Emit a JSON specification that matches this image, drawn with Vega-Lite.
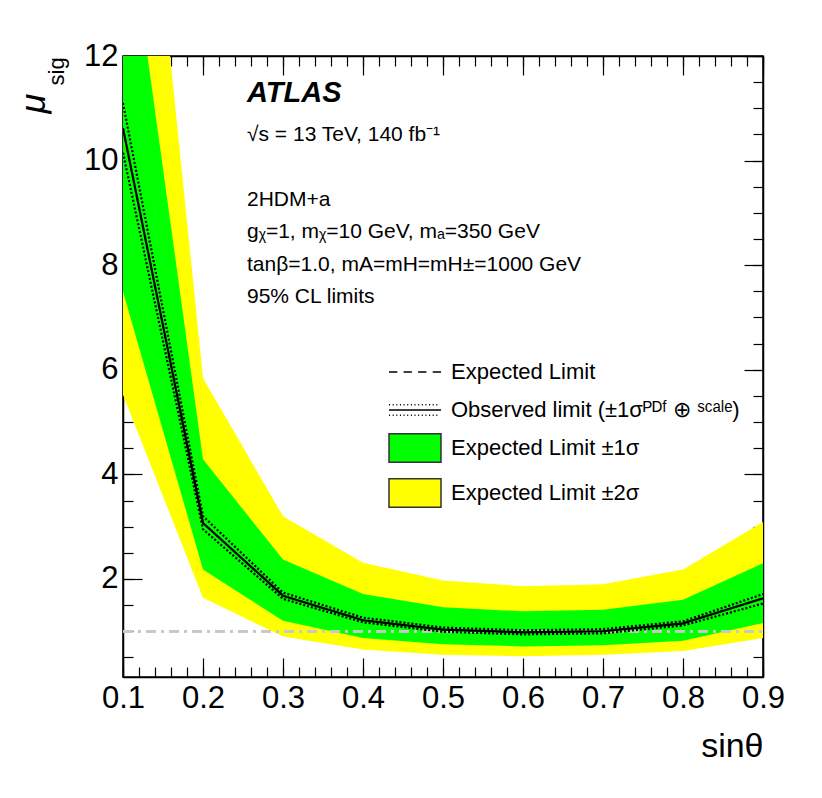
{
  "$schema": "https://vega.github.io/schema/vega-lite/v6.json",
  "width": 640,
  "height": 621,
  "autosize": {"type": "none"},
  "padding": {"left": 123, "top": 56, "right": 59, "bottom": 121},
  "background": "white",
  "title": {
    "text": "ATLAS",
    "subtitle": ["√s = 13 TeV, 140 fb⁻¹", "\u200b", "2HDM+a", "gᵪ=1, mᵪ=10 GeV, mₐ=350 GeV", "tanβ=1.0, mA=mH=mH±=1000 GeV", "95% CL limits"],
    "anchor": "start",
    "frame": "group",
    "orient": "top",
    "offset": -267,
    "dx": 124,
    "font": "Liberation Sans",
    "fontSize": 29,
    "fontWeight": "bold",
    "fontStyle": "italic",
    "color": "black",
    "subtitleFont": "Liberation Sans",
    "subtitleFontSize": 21,
    "subtitleColor": "black",
    "subtitleLineHeight": 32.5,
    "subtitlePadding": 16
  },
  "datasets": {
    "limits": [
      {"sin": 0.1, "y2lo": 5.52, "y1lo": 7.49, "obs": 10.62, "up": 11.1, "dn": 10.15, "exp": 10.62, "y1hi": 15.4, "y2hi": 20.8},
      {"sin": 0.2, "y2lo": 1.64, "y1lo": 2.18, "obs": 3.07, "up": 3.2, "dn": 2.95, "exp": 3.07, "y1hi": 4.29, "y2hi": 5.84},
      {"sin": 0.3, "y2lo": 0.9, "y1lo": 1.2, "obs": 1.68, "up": 1.74, "dn": 1.62, "exp": 1.68, "y1hi": 2.37, "y2hi": 3.2},
      {"sin": 0.4, "y2lo": 0.65, "y1lo": 0.87, "obs": 1.21, "up": 1.26, "dn": 1.17, "exp": 1.21, "y1hi": 1.71, "y2hi": 2.31},
      {"sin": 0.5, "y2lo": 0.55, "y1lo": 0.75, "obs": 1.03, "up": 1.07, "dn": 0.99, "exp": 1.03, "y1hi": 1.46, "y2hi": 1.97},
      {"sin": 0.6, "y2lo": 0.52, "y1lo": 0.71, "obs": 0.98, "up": 1.02, "dn": 0.94, "exp": 0.98, "y1hi": 1.38, "y2hi": 1.86},
      {"sin": 0.7, "y2lo": 0.55, "y1lo": 0.73, "obs": 1.0, "up": 1.04, "dn": 0.96, "exp": 1.0, "y1hi": 1.41, "y2hi": 1.9},
      {"sin": 0.8, "y2lo": 0.62, "y1lo": 0.82, "obs": 1.15, "up": 1.19, "dn": 1.11, "exp": 1.15, "y1hi": 1.6, "y2hi": 2.18},
      {"sin": 0.9, "y2lo": 0.87, "y1lo": 1.16, "obs": 1.63, "up": 1.71, "dn": 1.53, "exp": 1.63, "y1hi": 2.3, "y2hi": 3.09}
    ]
  },
  "data": {"name": "limits"},
  "layer": [
    {
      "mark": {"type": "area", "color": "#ffff00", "clip": true},
      "encoding": {
        "x": {
          "field": "sin", "type": "quantitative",
          "scale": {"domain": [0.1, 0.9], "nice": false, "zero": false},
          "axis": {
            "orient": "bottom", "ticks": false, "labels": true,
            "values": [0.1, 0.2, 0.3, 0.4, 0.5, 0.6, 0.7, 0.8, 0.9],
            "format": ".1f", "labelPadding": 6, "labelFlush": false, "labelBound": false,
            "title": "sinθ", "titleFontSize": 34, "titleX": 640, "titleY": 79,
            "titleAlign": "right", "titleBaseline": "alphabetic", "titleAnchor": null
          }
        },
        "y": {
          "field": "y2lo", "type": "quantitative",
          "scale": {"domain": [0.125, 12], "nice": false, "zero": false},
          "axis": {
            "orient": "left", "ticks": false, "labels": true,
            "values": [2, 4, 6, 8, 10, 12], "format": "d", "labelPadding": 5,
            "title": "μ", "titleFontSize": 36, "titleFontStyle": "italic",
            "titleX": -79, "titleY": 57, "titleAngle": 270,
            "titleAlign": "left", "titleBaseline": "alphabetic", "titleAnchor": null
          }
        },
        "y2": {"field": "y2hi"}
      }
    },
    {
      "mark": {"type": "area", "color": "#00ff00", "clip": true},
      "encoding": {
        "x": {
          "field": "sin", "type": "quantitative",
          "axis": {
            "orient": "bottom", "labels": false, "title": null, "tickSize": -19,
            "domain": true, "values": [0.1, 0.2, 0.3, 0.4, 0.5, 0.6, 0.7, 0.8, 0.9]
          }
        },
        "y": {
          "field": "y1lo", "type": "quantitative",
          "axis": {
            "orient": "left", "labels": false, "title": null, "tickSize": -19,
            "domain": true, "values": [2, 4, 6, 8, 10, 12]
          }
        },
        "y2": {"field": "y1hi"}
      }
    },
    {
      "mark": {"type": "rule", "color": "#c8c8c8", "strokeWidth": 2, "strokeDash": [10, 5, 3, 5]},
      "encoding": {
        "x": {
          "datum": 0.1, "type": "quantitative",
          "axis": {
            "orient": "bottom", "labels": false, "title": null, "tickSize": -10,
            "values": [0.1, 0.12, 0.14, 0.16, 0.18, 0.2, 0.22, 0.24, 0.26, 0.28, 0.3, 0.32, 0.34, 0.36, 0.38, 0.4, 0.42, 0.44, 0.46, 0.48, 0.5, 0.52, 0.54, 0.56, 0.58, 0.6, 0.62, 0.64, 0.66, 0.68, 0.7, 0.72, 0.74, 0.76, 0.78, 0.8, 0.82, 0.84, 0.86, 0.88, 0.9]
          }
        },
        "x2": {"datum": 0.9},
        "y": {
          "datum": 1, "type": "quantitative",
          "axis": {
            "orient": "left", "labels": false, "title": null, "tickSize": -10,
            "values": [0.5, 1, 1.5, 2, 2.5, 3, 3.5, 4, 4.5, 5, 5.5, 6, 6.5, 7, 7.5, 8, 8.5, 9, 9.5, 10, 10.5, 11, 11.5, 12]
          }
        }
      }
    },
    {
      "mark": {"type": "line", "color": "black", "strokeWidth": 1.5, "strokeDash": [6, 4], "clip": true},
      "encoding": {
        "x": {
          "field": "sin", "type": "quantitative",
          "axis": {
            "orient": "top", "labels": false, "title": null, "tickSize": -19,
            "domain": true, "values": [0.1, 0.2, 0.3, 0.4, 0.5, 0.6, 0.7, 0.8, 0.9]
          }
        },
        "y": {
          "field": "exp", "type": "quantitative",
          "axis": {
            "orient": "right", "labels": false, "title": null, "tickSize": -19,
            "domain": true, "values": [2, 4, 6, 8, 10, 12]
          }
        }
      }
    },
    {
      "mark": {"type": "line", "color": "black", "strokeWidth": 2.2, "strokeDash": [2, 2], "clip": true},
      "encoding": {
        "x": {
          "field": "sin", "type": "quantitative",
          "axis": {
            "orient": "top", "labels": false, "title": null, "tickSize": -10,
            "values": [0.1, 0.12, 0.14, 0.16, 0.18, 0.2, 0.22, 0.24, 0.26, 0.28, 0.3, 0.32, 0.34, 0.36, 0.38, 0.4, 0.42, 0.44, 0.46, 0.48, 0.5, 0.52, 0.54, 0.56, 0.58, 0.6, 0.62, 0.64, 0.66, 0.68, 0.7, 0.72, 0.74, 0.76, 0.78, 0.8, 0.82, 0.84, 0.86, 0.88, 0.9]
          }
        },
        "y": {
          "field": "up", "type": "quantitative",
          "axis": {
            "orient": "right", "labels": false, "title": null, "tickSize": -10,
            "values": [0.5, 1, 1.5, 2, 2.5, 3, 3.5, 4, 4.5, 5, 5.5, 6, 6.5, 7, 7.5, 8, 8.5, 9, 9.5, 10, 10.5, 11, 11.5, 12]
          }
        }
      }
    },
    {
      "mark": {"type": "line", "color": "black", "strokeWidth": 2.2, "strokeDash": [2, 2], "clip": true},
      "encoding": {
        "x": {"field": "sin", "type": "quantitative", "axis": null},
        "y": {
          "field": "dn", "type": "quantitative",
          "axis": {
            "orient": "left", "labels": false, "ticks": false, "values": [],
            "title": "sig", "titleFontSize": 22,
            "titleX": -60, "titleY": 29, "titleAngle": 270,
            "titleAlign": "left", "titleBaseline": "alphabetic", "titleAnchor": null
          }
        }
      }
    },
    {
      "mark": {"type": "line", "color": "black", "strokeWidth": 2.2, "clip": true},
      "encoding": {
        "x": {"field": "sin", "type": "quantitative", "axis": null},
        "y": {"field": "obs", "type": "quantitative", "axis": null}
      }
    },
    {
      "data": {
        "values": [
          {"entry": "Expected Limit"},
          {"entry": "Observed limit (±1σᴾᴰᶠ ⊕ ˢᶜᵃˡᵉ)"},
          {"entry": "Expected Limit ±1σ"},
          {"entry": "Expected Limit ±2σ"}
        ]
      },
      "mark": {"type": "point", "filled": true, "opacity": 0, "strokeWidth": 1.5},
      "encoding": {
        "shape": {
          "field": "entry", "type": "nominal",
          "scale": {
            "domain": ["Expected Limit", "Observed limit (±1σᴾᴰᶠ ⊕ ˢᶜᵃˡᵉ)", "Expected Limit ±1σ", "Expected Limit ±2σ"],
            "range": [
              "M-1,0H-0.68M-0.44,0H-0.12M0.12,0H0.44M0.68,0H1",
              "M-1,-0.2h0.04m0.1,0h0.04m0.1,0h0.04m0.1,0h0.04m0.1,0h0.04m0.1,0h0.04m0.1,0h0.04m0.1,0h0.04m0.1,0h0.04m0.1,0h0.04m0.1,0h0.04m0.1,0h0.04m0.1,0h0.04m0.1,0h0.04M-1,0H1M-1,0.2h0.04m0.1,0h0.04m0.1,0h0.04m0.1,0h0.04m0.1,0h0.04m0.1,0h0.04m0.1,0h0.04m0.1,0h0.04m0.1,0h0.04m0.1,0h0.04m0.1,0h0.04m0.1,0h0.04m0.1,0h0.04m0.1,0h0.04",
              "M-1,-0.55H1V0.55H-1Z",
              "M-1,-0.55H1V0.55H-1Z"
            ]
          },
          "legend": {
            "orient": "none", "legendX": 265, "legendY": 289, "title": null,
            "symbolSize": 2704, "symbolStrokeWidth": 1.5,
            "symbolOpacity": 1, "labelFont": "Liberation Sans", "labelFontSize": 22,
            "labelColor": "black", "labelOffset": 9, "labelLimit": 400,
            "rowPadding": -15, "padding": 0
          }
        },
        "fill": {
          "field": "entry", "type": "nominal",
          "scale": {
            "domain": ["Expected Limit", "Observed limit (±1σᴾᴰᶠ ⊕ ˢᶜᵃˡᵉ)", "Expected Limit ±1σ", "Expected Limit ±2σ"],
            "range": ["transparent", "transparent", "#00ff00", "#ffff00"]
          },
          "legend": {
            "orient": "none", "legendX": 265, "legendY": 289, "title": null,
            "symbolSize": 2704, "symbolStrokeWidth": 1.5,
            "symbolOpacity": 1, "labelFont": "Liberation Sans", "labelFontSize": 22,
            "labelColor": "black", "labelOffset": 9, "labelLimit": 400,
            "rowPadding": -15, "padding": 0
          }
        },
        "stroke": {
          "field": "entry", "type": "nominal",
          "scale": {
            "domain": ["Expected Limit", "Observed limit (±1σᴾᴰᶠ ⊕ ˢᶜᵃˡᵉ)", "Expected Limit ±1σ", "Expected Limit ±2σ"],
            "range": ["black", "black", "#333333", "#333333"]
          },
          "legend": {
            "orient": "none", "legendX": 265, "legendY": 289, "title": null,
            "symbolSize": 2704, "symbolStrokeWidth": 1.5,
            "symbolOpacity": 1, "labelFont": "Liberation Sans", "labelFontSize": 22,
            "labelColor": "black", "labelOffset": 9, "labelLimit": 400,
            "rowPadding": -15, "padding": 0
          }
        }
      }
    }
  ],
  "resolve": {"axis": {"x": "independent", "y": "independent"}},
  "config": {
    "view": {"stroke": "black", "strokeWidth": 1.5},
    "font": "Liberation Sans",
    "axis": {
      "domain": false,
      "domainColor": "black",
      "domainWidth": 1.5,
      "grid": false,
      "zindex": 1,
      "tickColor": "black",
      "tickWidth": 1.2,
      "labelFont": "Liberation Sans",
      "labelFontSize": 31,
      "labelColor": "black",
      "labelOverlap": false,
      "titleFont": "Liberation Sans",
      "titleFontWeight": "normal",
      "titleColor": "black"
    }
  }
}
